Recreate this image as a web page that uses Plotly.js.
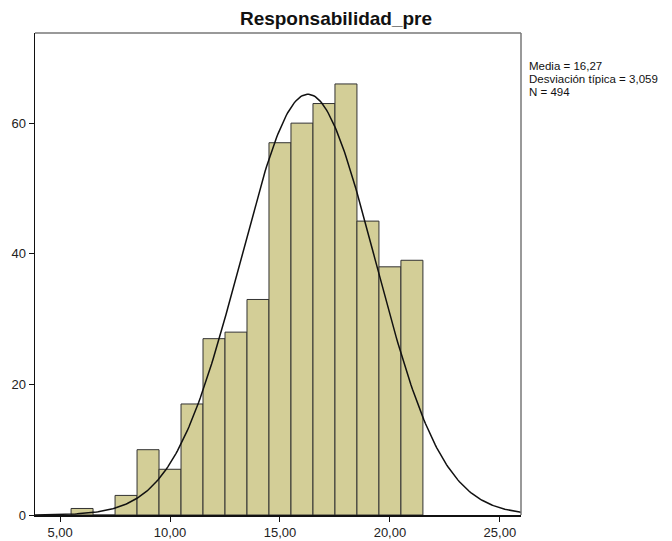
<!DOCTYPE html>
<html>
<head>
<meta charset="utf-8">
<script src="https://cdn.plot.ly/plotly-3.0.1.min.js"></script>
<style>body{margin:0;padding:0;background:#fff;} #chart{width:672px;height:541px;}</style>
</head>
<body>
<div id="chart"></div>
<script>
// Bin centers (bin width 1) and counts
const binCenters = [6, 7, 8, 9, 10, 11, 12, 13, 14, 15, 16, 17, 18, 19, 20, 21];
const counts     = [1, 0, 3, 10, 7, 17, 27, 28, 33, 57, 60, 63, 66, 45, 38, 39];
// Summary statistics shown in the chart
const meanVal = 16.27;
const sdVal = 3.059;
const nVal = 494;
const binWidth = 1;
const xTicks = [5, 10, 15, 20, 25];
const yTicks = [0, 20, 40, 60];
const statLines = ["Media = 16,27", "Desviación típica = 3,059", "N = 494"];

// Fitted normal curve from stated mean / sd / N
const curveX = [], curveY = [];
for (let i = 0; i <= 300; i++) {
  const x = 3.86 + (25.96 - 3.86) * i / 300;
  curveX.push(x);
  curveY.push(nVal * binWidth / (sdVal * Math.sqrt(2 * Math.PI)) * Math.exp(-0.5 * Math.pow((x - meanVal) / sdVal, 2)));
}

const font = "Arial, 'Liberation Sans', sans-serif";
const data = [
  {
    type: 'bar', x: binCenters, y: counts, width: binWidth,
    marker: {color: 'rgb(211,206,151)', line: {color: 'rgb(50,50,50)', width: 1}},
    hoverinfo: 'x+y'
  },
  {
    type: 'scatter', mode: 'lines', x: curveX, y: curveY,
    line: {color: '#111', width: 1.5}, hoverinfo: 'skip'
  }
];

const annots = statLines.map((t, i) => ({
  xref: 'paper', yref: 'paper', x: 1, xshift: 7, y: 1, yshift: -(33 + i * 13.2),
  xanchor: 'left', yanchor: 'middle', align: 'left', showarrow: false,
  borderpad: 0,
  text: t, font: {family: font, size: 11.5, color: '#111'}
}));

const layout = {
  width: 672, height: 541,
  margin: {l: 35, r: 151, t: 33, b: 26},
  paper_bgcolor: '#fff', plot_bgcolor: '#fff',
  showlegend: false,
  bargap: 0,
  separators: ',.',
  font: {family: font, size: 12, color: '#222'},
  title: {text: '<b>Responsabilidad_pre</b>', x: 0.5, xanchor: 'center', y: 0.967, yanchor: 'middle',
          font: {family: font, size: 19, color: '#111'}},
  xaxis: {
    range: [3.86, 25.96], tickvals: xTicks, tickformat: '.2f',
    ticks: 'outside', ticklen: 5, tickcolor: '#111', showgrid: false, zeroline: false,
    showline: true, linecolor: '#111', linewidth: 1.5,
    tickfont: {family: font, size: 13, color: '#222'}
  },
  yaxis: {
    range: [0, 73.8], tickvals: yTicks,
    ticks: 'outside', ticklen: 5, tickcolor: '#111', showgrid: false, zeroline: false,
    showline: true, linecolor: '#111', linewidth: 1.5,
    tickfont: {family: font, size: 13, color: '#222'}
  },
  shapes: [
    {type: 'line', xref: 'paper', yref: 'paper', x0: 0, x1: 1, y0: 1, y1: 1, line: {color: '#777', width: 1.5}},
    {type: 'line', xref: 'paper', yref: 'paper', x0: 1, x1: 1, y0: 0, y1: 1, line: {color: '#777', width: 1.5}}
  ],
  annotations: annots
};

Plotly.newPlot('chart', data, layout, {displayModeBar: false, staticPlot: true});
</script>
</body>
</html>
